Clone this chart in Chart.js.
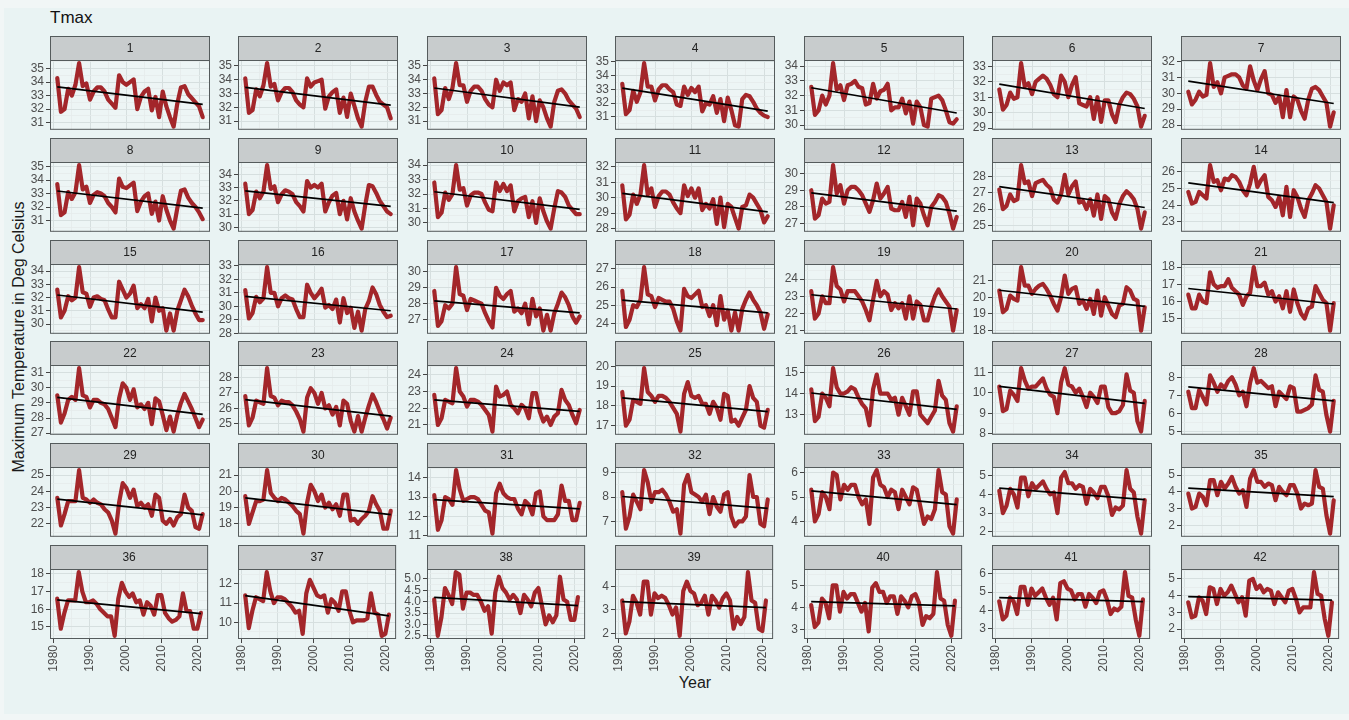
<!DOCTYPE html>
<html>
<head>
<meta charset="utf-8">
<script src="https://cdn.jsdelivr.net/npm/chart.js@4"></script>
<style>
  html,body{margin:0;padding:0;}
  body{width:1349px;height:720px;background:#f1f6f6;position:relative;overflow:hidden;font-family:"Liberation Sans",Arial,sans-serif;}
  #frame{position:absolute;left:4px;top:8px;width:1345px;height:706px;background:#e9f3f3;}
  canvas{position:absolute;}
  #title{position:absolute;left:50px;top:8px;font-size:17px;color:#111;}
  #ylab{position:absolute;left:19px;top:337px;transform:translate(-50%,-50%) rotate(-90deg);font-size:16px;color:#1a1a1a;white-space:nowrap;}
  #xlab{position:absolute;left:695px;top:683px;transform:translate(-50%,-50%);font-size:16px;color:#1a1a1a;}
</style>
</head>
<body>
<div id="frame"></div>
<div id="title">Tmax</div>
<div id="ylab">Maximum Temperature in Deg Celsius</div>
<div id="xlab">Year</div>
<script>
const YEARS = [1981,1982,1983,1984,1985,1986,1987,1988,1989,1990,
               1991,1992,1993,1994,1995,1996,1997,1998,1999,2000,
               2001,2002,2003,2004,2005,2006,2007,2008,2009,2010,
               2011,2012,2013,2014,2015,2016,2017,2018,2019,2020,
               2021];
const X_TICKS = [1980,1990,2000,2010,2020];
const PANEL_LABELS = ['1','2','3','4','5','6','7','8','9','10','11','12','13','14','15','16','17','18','19','20','21',
  '22','23','24','25','26','27','28','29','30','31','32','33','34','35','36','37','38','39','40','41','42'];

const T1 = [34.3,31.8,32.0,33.5,33.0,33.8,35.4,33.7,33.9,32.7,
            33.3,33.6,33.6,33.3,32.7,32.4,32.1,34.5,34.0,33.8,
            34.0,34.2,32.0,32.9,33.3,33.5,31.9,32.9,31.4,33.3,
            32.2,31.4,30.7,32.4,33.6,33.7,33.1,32.8,32.5,32.2,
            31.4];
const T2 = [34.1,31.6,31.8,33.3,32.8,33.6,35.2,33.5,33.7,32.5,
            33.1,33.4,33.4,33.1,32.5,32.2,32.0,34.1,33.5,33.8,
            33.9,34.0,31.9,32.8,33.1,33.3,31.6,32.7,31.3,33.0,
            32.1,31.2,30.6,32.4,33.5,33.5,32.9,32.4,32.2,32.0,
            31.2];
const T3 = [34.1,31.5,31.8,33.4,32.6,33.4,35.2,33.6,33.6,32.4,
            33.2,33.5,33.5,33.2,32.6,32.2,32.0,34.0,33.2,33.8,
            33.6,33.8,31.8,32.6,32.4,33.0,31.2,32.8,31.0,32.5,
            32.0,31.2,30.6,32.4,33.2,33.3,33.0,32.5,32.2,31.9,
            31.3];
const T4 = [33.4,31.2,31.5,32.9,32.1,32.8,34.9,33.2,33.2,32.2,
            33.0,33.3,33.3,33.0,32.8,31.9,31.8,33.2,32.6,33.1,
            32.8,33.2,31.4,32.0,31.9,32.5,31.3,32.3,30.7,32.4,
            31.5,30.4,30.3,32.3,32.6,32.5,32.1,31.6,31.3,31.1,
            31.0];
const T5 = [32.6,30.7,31.0,32.0,31.4,32.0,34.2,32.4,32.7,31.7,
            32.7,32.8,33.0,32.6,32.5,31.4,31.5,32.8,31.8,32.3,
            32.4,32.8,31.0,31.2,31.2,31.8,30.8,31.6,30.1,31.6,
            31.2,30.0,29.9,31.8,31.9,32.0,31.7,31.0,30.2,30.1,
            30.4];
const T6 = [31.5,30.2,30.5,31.3,30.9,31.0,33.2,31.7,31.9,31.2,
            32.0,32.2,32.4,32.2,31.8,31.2,31.0,32.4,32.0,31.0,
            31.8,32.3,30.6,30.5,30.4,31.0,29.6,31.0,29.4,30.8,
            30.8,29.9,29.4,30.5,31.0,31.3,31.2,30.9,30.4,29.1,
            29.8];
const T7 = [30.1,29.3,29.6,30.1,29.8,29.9,31.9,30.4,30.7,30.0,
            31.0,31.1,31.2,31.2,31.0,30.5,30.3,31.7,30.8,30.2,
            30.9,31.4,30.0,29.9,29.4,29.8,28.5,30.2,28.5,29.8,
            29.6,28.9,28.4,29.6,30.3,30.4,30.2,29.8,29.4,27.9,
            28.8];
const T8 = [33.7,31.4,31.6,33.1,32.6,33.1,35.1,33.3,33.5,32.3,
            32.9,33.1,33.0,32.8,32.3,32.0,31.6,34.1,33.5,33.4,
            33.6,33.8,31.7,32.4,32.8,33.0,31.5,32.4,31.0,32.8,
            31.8,31.0,30.4,31.9,33.2,33.3,32.7,32.3,32.0,31.6,
            31.1];
const T9 = [33.3,31.0,31.3,32.7,32.2,32.7,34.7,32.9,33.1,31.9,
            32.5,32.8,32.7,32.5,31.9,31.6,31.2,33.5,33.0,33.2,
            33.0,33.3,31.2,31.9,32.4,32.6,31.0,32.0,30.6,32.2,
            31.2,30.5,29.9,31.7,33.2,33.1,32.6,32.0,31.6,31.2,
            31.0];
const T10 = [32.8,30.4,30.7,32.1,31.6,32.0,34.0,32.3,32.4,31.2,
             31.9,32.1,32.1,32.0,31.4,30.9,30.8,32.8,32.2,32.7,
             32.2,32.6,30.8,31.5,31.7,31.8,30.4,31.5,30.0,31.7,
             30.8,30.1,29.6,31.0,32.2,32.1,31.8,31.2,30.9,30.6,
             30.6];
const T11 = [30.8,28.6,28.9,30.2,29.6,30.2,32.1,30.2,30.6,29.4,
             30.1,30.4,30.4,30.2,29.7,29.3,29.0,30.8,30.1,30.6,
             30.0,30.6,29.2,29.6,29.3,29.9,28.3,30.0,28.1,29.6,
             29.4,28.7,28.0,29.4,29.5,30.2,30.0,29.6,29.2,28.4,
             28.8];
const T12 = [29.0,27.3,27.5,28.5,28.2,28.3,30.5,28.8,29.3,28.2,
             29.0,29.2,29.2,29.0,28.7,28.2,27.7,28.4,29.4,28.5,
             28.8,29.2,27.9,27.8,27.8,28.3,27.4,28.6,26.9,28.5,
             28.2,27.5,26.9,28.0,28.3,28.7,28.6,28.3,27.6,26.7,
             27.4];
const T13 = [27.2,26.0,26.2,26.9,26.5,26.6,28.7,27.6,27.7,26.8,
             27.6,27.7,27.8,27.5,27.3,26.6,26.4,26.9,28.1,26.9,
             27.4,27.7,26.4,26.5,26.0,26.6,25.6,26.9,25.4,26.8,
             26.6,25.8,25.4,26.3,26.8,27.1,26.9,26.6,26.0,24.8,
             25.8];
const T14 = [24.8,24.1,24.2,24.8,24.6,24.4,26.4,25.4,25.5,24.9,
             25.6,25.5,25.8,25.7,25.4,24.9,24.6,25.3,26.3,25.1,
             25.5,25.8,24.5,24.3,23.9,24.5,23.4,25.1,23.3,24.9,
             24.5,23.8,23.3,24.3,24.7,25.2,25.0,24.6,24.2,22.6,
             24.0];
const T15 = [32.6,30.5,31.0,32.1,31.8,32.0,34.3,32.4,32.3,31.3,
             32.0,32.1,31.9,31.8,31.1,30.5,30.5,33.2,32.6,32.0,
             32.3,32.9,31.2,31.5,31.2,31.9,30.2,32.0,31.0,31.2,
             29.5,30.8,29.5,31.0,31.8,32.6,32.1,31.4,30.8,30.3,
             30.3];
const T16 = [31.2,29.1,29.5,30.7,30.3,30.6,32.9,31.0,31.0,30.0,
             30.6,30.8,30.6,30.5,29.8,29.2,29.2,31.6,31.0,30.6,
             30.9,31.3,29.9,30.1,29.8,30.5,28.8,30.6,29.5,29.9,
             28.4,29.6,28.2,29.8,30.4,31.4,30.9,30.1,29.6,29.2,
             29.3];
const T17 = [28.8,26.6,26.9,27.9,27.7,28.0,30.3,28.6,28.5,27.6,
             28.3,28.2,28.1,28.0,27.4,26.9,26.5,29.0,28.5,28.3,
             28.6,28.8,27.5,27.7,27.4,28.0,26.7,28.3,27.2,27.7,
             26.3,27.3,26.3,27.4,28.0,28.7,28.4,27.9,27.2,26.8,
             27.2];
const T18 = [25.8,23.8,24.2,25.0,24.9,25.3,27.1,25.6,25.5,24.9,
             25.4,25.3,25.2,25.2,24.8,24.1,23.6,25.9,25.5,25.4,
             25.6,25.8,24.9,25.0,24.4,25.0,23.9,25.5,24.2,24.7,
             23.6,24.6,23.6,24.8,25.3,25.7,25.3,25.0,24.6,23.7,
             24.5];
const T19 = [23.3,21.7,22.0,23.0,22.6,22.6,24.7,23.6,23.4,22.7,
             23.3,23.3,23.3,23.0,22.7,22.2,21.6,22.8,23.9,23.0,
             23.3,23.1,22.2,22.6,22.3,22.6,21.7,23.0,21.7,22.7,
             22.5,21.6,21.6,22.4,23.0,23.4,23.0,22.7,22.4,21.0,
             22.2];
const T20 = [20.4,19.1,19.3,20.1,19.9,19.8,21.8,20.7,20.7,20.2,
             20.5,20.7,20.8,20.5,20.1,19.6,19.2,20.0,21.3,20.2,
             20.5,20.6,19.6,19.8,19.3,19.9,19.0,20.4,18.9,20.0,
             19.5,19.0,18.8,19.5,19.6,20.6,20.4,19.9,19.8,18.0,
             19.4];
const T21 = [16.4,15.6,15.6,16.4,16.0,15.9,17.7,17.0,16.8,16.9,
             16.9,17.3,16.8,16.6,16.4,15.8,16.3,16.5,18.0,16.9,
             16.9,17.1,16.4,16.6,16.0,16.3,15.6,16.6,15.4,16.7,
             15.9,15.3,15.0,15.6,15.7,16.9,16.5,16.1,15.9,14.3,
             15.9];
const T22 = [29.5,27.7,28.3,29.2,29.4,29.2,31.3,29.5,29.4,28.7,
             29.2,29.2,29.0,28.9,28.6,28.0,27.4,29.3,30.3,30.0,
             29.2,29.9,28.7,28.9,28.6,29.0,27.6,29.3,29.1,28.2,
             27.2,28.1,27.1,28.2,29.0,29.6,29.1,28.6,28.0,27.4,
             27.9];
const T23 = [26.8,24.9,25.4,26.5,26.4,26.3,28.6,26.8,26.7,26.2,
             26.5,26.4,26.4,26.2,25.8,25.3,24.5,26.7,27.3,27.0,
             26.3,27.0,26.0,26.2,25.6,26.1,24.9,26.5,26.3,25.2,
             24.5,25.5,24.5,25.4,26.2,26.9,26.4,25.8,25.3,24.7,
             25.4];
const T24 = [22.8,21.0,21.4,22.5,22.4,22.3,24.4,23.0,22.7,22.1,
             22.5,22.5,22.4,22.2,21.9,21.6,20.6,23.3,22.7,22.8,
             23.0,22.2,22.0,21.7,22.2,22.0,21.4,22.9,22.9,21.8,
             21.2,21.5,21.0,21.5,21.7,23.1,22.5,22.2,21.6,21.1,
             21.9];
const T25 = [18.7,17.0,17.3,18.3,18.2,18.1,19.9,18.7,18.5,18.2,
             18.5,18.5,18.4,18.2,17.9,17.6,16.7,18.6,19.2,18.5,
             18.4,18.5,18.1,18.1,17.6,18.2,17.9,17.3,18.6,18.5,
             17.2,17.3,17.0,17.4,17.8,19.0,18.4,18.2,17.0,16.9,
             17.8];
const T26 = [14.2,12.7,12.9,14.0,13.8,13.4,15.2,14.3,14.0,14.0,
             14.1,14.3,14.2,13.8,13.5,13.3,12.5,14.2,14.9,14.0,
             14.0,14.0,13.7,13.8,13.0,13.8,13.4,13.0,14.1,14.1,
             13.0,12.8,12.6,12.9,13.2,14.6,13.9,13.7,12.6,12.2,
             13.4];
const T27 = [10.3,9.1,9.2,10.1,9.9,9.6,11.2,10.6,10.2,10.3,
             10.3,10.5,10.7,10.2,9.9,9.8,9.0,10.5,11.2,10.4,
             10.3,10.0,10.2,9.8,9.3,10.0,9.8,9.5,10.3,10.3,
             9.3,9.0,9.0,9.1,9.4,10.9,10.1,10.0,8.6,8.1,
             9.6];
const T28 = [7.2,6.3,6.3,7.3,6.9,6.5,8.1,7.7,7.2,7.6,
             7.4,7.8,8.0,7.6,7.0,7.2,6.4,7.7,8.5,7.7,
             7.8,7.6,7.4,7.5,6.4,7.2,7.0,6.8,7.5,7.4,
             6.1,6.1,6.2,6.3,6.5,8.1,7.3,7.2,5.9,5.0,
             6.7];
const T29 = [23.6,21.9,22.6,23.4,23.4,23.4,25.3,23.6,23.5,23.3,
             23.5,23.3,23.2,22.9,22.7,22.2,21.4,23.3,24.5,24.2,
             23.6,24.1,23.1,23.3,23.0,23.2,22.5,23.8,23.6,22.2,
             22.0,22.3,21.9,22.4,22.6,23.8,23.0,22.8,21.8,21.7,
             22.6];
const T30 = [19.7,18.0,18.7,19.4,19.4,19.5,21.3,19.9,19.6,19.4,
             19.6,19.5,19.3,19.1,18.8,18.6,17.4,19.3,20.4,20.0,
             19.4,19.8,19.0,19.3,18.9,19.2,18.5,19.8,19.8,18.2,
             18.3,18.0,18.3,18.5,18.8,19.7,19.2,18.8,17.7,17.7,
             18.8];
const T31 = [13.1,11.3,11.8,13.0,12.9,12.6,14.4,13.4,12.8,12.9,
             13.0,13.0,12.9,12.6,12.3,12.2,11.1,13.2,13.7,13.2,
             13.0,12.9,12.9,12.4,12.1,12.8,12.6,12.1,13.2,13.3,
             12.0,11.8,11.8,11.8,12.1,13.6,12.8,12.8,11.8,11.8,
             12.7];
const T32 = [8.2,6.7,7.2,8.1,7.8,7.5,9.1,8.6,7.8,8.2,
             8.2,8.3,8.1,7.8,7.4,7.5,6.5,8.5,8.9,8.2,
             8.1,8.0,7.8,8.1,7.3,8.0,7.6,7.4,8.1,8.2,
             7.2,6.8,7.0,7.0,7.2,8.9,8.0,8.0,6.9,6.8,
             7.9];
const T33 = [5.3,4.0,4.3,5.2,5.0,4.5,6.0,5.9,4.9,5.5,
             5.3,5.5,5.5,5.0,4.7,4.9,3.9,5.8,6.1,5.5,
             5.4,5.0,5.3,5.2,4.5,5.3,5.0,4.7,5.4,5.3,
             4.6,3.9,4.2,4.1,4.5,6.1,5.2,5.1,3.8,3.5,
             4.9];
const T34 = [4.2,3.0,3.4,4.3,4.0,3.3,4.9,4.9,3.9,4.6,
             4.3,4.5,4.7,4.3,4.0,4.1,3.0,4.9,5.2,4.6,
             4.6,4.3,4.5,4.4,3.5,4.3,4.1,3.8,4.4,4.4,
             3.9,2.9,3.3,3.2,3.4,5.3,4.3,4.1,2.8,1.9,
             3.7];
const T35 = [3.9,3.0,3.1,3.9,3.7,3.2,4.7,4.7,3.8,4.6,
             4.2,4.5,4.9,4.3,3.9,4.1,3.1,4.8,5.3,4.6,
             4.6,4.3,4.5,4.4,3.5,4.3,4.0,3.8,4.4,4.4,
             3.9,3.0,3.3,3.2,3.3,5.3,4.3,4.2,2.6,1.5,
             3.5];
const T36 = [16.6,14.9,15.8,16.5,16.5,16.5,18.1,17.0,16.4,16.4,
             16.5,16.3,16.0,15.8,15.6,15.6,14.5,16.6,17.5,17.0,
             16.7,16.9,16.4,16.5,15.7,16.4,16.2,15.7,16.8,16.8,
             15.8,15.5,15.3,15.4,15.6,16.9,15.9,15.9,14.9,14.9,
             15.8];
const T37 = [11.4,9.7,10.6,11.3,11.2,11.1,12.6,11.6,11.0,11.3,
             11.3,11.2,11.0,10.8,10.5,10.6,9.4,11.5,12.2,11.8,
             11.4,11.3,11.4,10.5,11.2,11.0,10.6,11.6,11.6,10.6,
             10.0,10.1,10.1,10.1,10.2,11.5,10.5,10.4,9.3,9.4,
             10.4];
const T38 = [4.1,2.5,3.3,4.6,4.3,3.9,5.3,5.2,3.7,4.4,
             4.4,4.3,4.3,4.0,3.6,3.8,2.6,4.4,5.1,4.6,
             4.4,4.1,4.3,4.1,3.5,4.3,4.1,3.8,4.4,4.6,
             3.8,3.0,3.4,3.1,3.4,5.1,4.1,4.0,3.2,3.2,
             4.2];
const T39 = [3.4,2.0,2.5,3.6,3.3,2.8,4.2,4.2,2.8,3.7,
             3.5,3.6,3.5,3.2,2.8,3.1,1.9,3.8,4.2,3.8,
             3.7,3.2,3.3,3.6,2.8,3.6,3.4,3.1,3.5,3.7,
             3.4,2.2,2.7,2.4,2.7,4.6,3.4,3.3,2.2,2.1,
             3.4];
const T40 = [4.1,3.1,3.3,4.4,4.2,3.5,5.0,5.0,3.8,4.7,
             4.4,4.6,4.6,4.2,3.8,4.2,2.9,4.9,5.1,4.7,
             4.7,4.2,4.5,4.5,3.7,4.5,4.3,4.0,4.5,4.6,
             4.2,3.2,3.6,3.5,3.7,5.6,4.4,4.3,3.2,2.7,
             4.3];
const T41 = [4.5,3.5,3.7,4.7,4.5,3.8,5.3,5.3,4.3,5.2,
             4.8,5.0,5.2,4.7,4.3,4.7,3.5,5.5,5.6,5.2,
             5.1,4.6,4.9,4.9,4.2,4.9,4.7,4.4,5.0,5.1,
             4.6,3.8,4.1,4.0,4.2,6.1,4.8,4.7,3.5,2.6,
             4.6];
const T42 = [3.6,2.7,2.8,3.9,3.7,2.9,4.5,4.4,3.5,4.4,
             4.0,4.2,4.6,4.1,3.6,3.9,2.8,4.9,5.0,4.4,
             4.6,4.2,4.4,4.3,3.5,4.2,3.9,3.6,4.3,4.4,
             3.8,3.0,3.3,3.3,3.3,5.4,4.1,4.0,2.6,1.6,
             3.6];

const SERIES = [T1,T2,T3,T4,T5,T6,T7,T8,T9,T10,T11,T12,T13,T14,T15,T16,T17,T18,T19,T20,T21,
                T22,T23,T24,T25,T26,T27,T28,T29,T30,T31,T32,T33,T34,T35,T36,T37,T38,T39,T40,T41,T42];

const Y_TICKS = [
  [31,32,33,34,35],[31,32,33,34,35],[31,32,33,34,35],[31,32,33,34,35],[30,31,32,33,34],[29,30,31,32,33],[28,29,30,31,32],
  [31,32,33,34,35],[30,31,32,33,34],[30,31,32,33,34],[28,29,30,31,32],[27,28,29,30],[25,26,27,28],[23,24,25,26],
  [30,31,32,33,34],[28,29,30,31,32,33],[27,28,29,30],[24,25,26,27],[21,22,23,24],[18,19,20,21],[15,16,17,18],
  [27,28,29,30,31],[25,26,27,28],[21,22,23,24],[17,18,19,20],[13,14,15],[8,9,10,11],[5,6,7,8],
  [22,23,24,25],[18,19,20,21],[11,12,13,14],[7,8,9],[4,5,6],[2,3,4,5],[2,3,4,5],
  [15,16,17,18],[10,11,12],[2.5,3.0,3.5,4.0,4.5,5.0],[2,3,4],[3,4,5],[3,4,5,6],[2,3,4,5]
];

// ---- layout / style ----
const COL0 = 50, COL_PITCH = 188.45, ROW0 = 36, ROW_PITCH = 101.8;
const PLOT_W = 160, PLOT_H = 70, STRIP_H = 24, YAXIS_W = 46;
const RED = '#a3262a';
const PANEL_BG = '#edf5f5';
const GRID_MAJOR = '#d6dfdf';
const GRID_MINOR = '#e4ebeb';
const FONT = '"Liberation Sans", Arial, sans-serif';

const panelPlugin = {
  id: 'panelDeco',
  beforeDraw(chart) {
    const {ctx, chartArea: a} = chart;
    ctx.save();
    ctx.fillStyle = PANEL_BG;
    ctx.fillRect(a.left, a.top, a.right - a.left, a.bottom - a.top);
    ctx.restore();
  },
  afterDraw(chart, args, opts) {
    const {ctx, chartArea: a} = chart;
    ctx.save();
    ctx.strokeStyle = '#555b5c';
    ctx.lineWidth = 1;
    ctx.strokeRect(a.left + 0.5, a.top + 0.5, a.right - a.left - 1, a.bottom - a.top - 1);
    const top = a.top - STRIP_H;
    ctx.fillStyle = '#c8cccd';
    ctx.fillRect(a.left, top, a.right - a.left, STRIP_H);
    ctx.strokeRect(a.left + 0.5, top + 0.5, a.right - a.left - 1, STRIP_H);
    ctx.fillStyle = '#222';
    ctx.font = '12px ' + FONT;
    ctx.textAlign = 'center';
    ctx.textBaseline = 'middle';
    ctx.fillText(opts.label, (a.left + a.right) / 2, top + STRIP_H / 2 + 0.5);
    ctx.restore();
  }
};

function linFit(xs, ys) {
  const n = xs.length;
  let sx = 0, sy = 0, sxx = 0, sxy = 0;
  for (let k = 0; k < n; k++) { sx += xs[k]; sy += ys[k]; sxx += xs[k]*xs[k]; sxy += xs[k]*ys[k]; }
  const b = (n*sxy - sx*sy) / (n*sxx - sx*sx);
  const a = (sy - b*sx) / n;
  return x => a + b*x;
}

SERIES.forEach((vals, i) => {
  const col = i % 7, row = Math.floor(i / 7);
  const bottomRow = row === 5;
  const plotLeft = Math.round(COL0 + col * COL_PITCH);
  const stripTop = Math.round(ROW0 + row * ROW_PITCH);
  const xAxisH = bottomRow ? 42 : 9;
  const cv = document.createElement('canvas');
  const W = YAXIS_W + PLOT_W + 4, H = STRIP_H + PLOT_H + xAxisH;
  cv.width = W; cv.height = H;
  cv.style.left = (plotLeft - YAXIS_W) + 'px';
  cv.style.top = stripTop + 'px';
  cv.style.width = W + 'px'; cv.style.height = H + 'px';
  document.body.appendChild(cv);

  const fit = linFit(YEARS, vals);
  const trend = [{x: YEARS[0], y: fit(YEARS[0])}, {x: YEARS[YEARS.length-1], y: fit(YEARS[YEARS.length-1])}];
  const allY = vals.concat(trend.map(p => p.y));
  const lo = Math.min(...allY), hi = Math.max(...allY);
  const yMin = lo - 0.05 * (hi - lo), yMax = hi + 0.05 * (hi - lo);
  const xMin = YEARS[0] - 0.05 * (YEARS[YEARS.length-1] - YEARS[0]);
  const xMax = YEARS[YEARS.length-1] + 0.05 * (YEARS[YEARS.length-1] - YEARS[0]);

  const majorsY = Y_TICKS[i];
  const stepY = majorsY[1] - majorsY[0];
  const ticksY = [];
  for (let v = majorsY[0] - stepY; v <= majorsY[majorsY.length-1] + stepY + 1e-9; v += stepY / 2) {
    const r = Math.round(v * 1000) / 1000;
    if (r >= yMin && r <= yMax) ticksY.push(r);
  }
  const isMajorY = v => majorsY.some(m => Math.abs(m - v) < 1e-6);
  const ticksX = [];
  for (let v = X_TICKS[0] - 5; v <= X_TICKS[X_TICKS.length-1] + 5; v += 5) {
    if (v >= xMin && v <= xMax) ticksX.push(v);
  }
  const isMajorX = v => X_TICKS.includes(v);
  const decimals = stepY < 1 ? 1 : 0;

  new Chart(cv, {
    type: 'line',
    data: {
      datasets: [
        { data: trend, borderColor: '#000', borderWidth: 1.7, pointRadius: 0, order: 0, tension: 0 },
        { data: vals.map((v, k) => ({x: YEARS[k], y: v})), borderColor: RED, borderWidth: 4.2,
          pointRadius: 0, order: 1, tension: 0, borderJoinStyle: 'round', borderCapStyle: 'round' }
      ]
    },
    options: {
      responsive: false, animation: false, devicePixelRatio: 1,
      layout: { padding: { top: STRIP_H, right: 4, left: 0, bottom: 0 } },
      plugins: { legend: { display: false }, tooltip: { enabled: false }, panelDeco: { label: PANEL_LABELS[i] } },
      scales: {
        x: {
          type: 'linear', min: xMin, max: xMax,
          afterBuildTicks: s => { s.ticks = ticksX.map(v => ({value: v})); },
          afterFit: s => { s.height = xAxisH; },
          border: { display: false },
          grid: {
            color: c => (c.tick && isMajorX(c.tick.value)) ? GRID_MAJOR : GRID_MINOR,
            lineWidth: c => (c.tick && isMajorX(c.tick.value)) ? 1 : 0.8,
            drawTicks: bottomRow, tickLength: 4,
            tickColor: c => (c.tick && isMajorX(c.tick.value)) ? '#444' : 'rgba(0,0,0,0)'
          },
          ticks: {
            display: bottomRow, autoSkip: false, minRotation: 90, maxRotation: 90, padding: 2,
            color: '#4d4d4d', font: { size: 12, family: FONT },
            callback: v => isMajorX(v) ? String(v) : ''
          }
        },
        y: {
          type: 'linear', min: yMin, max: yMax,
          afterBuildTicks: s => { s.ticks = ticksY.map(v => ({value: v})); },
          afterFit: s => { s.width = YAXIS_W; },
          border: { display: false },
          grid: {
            color: c => (c.tick && isMajorY(c.tick.value)) ? GRID_MAJOR : GRID_MINOR,
            lineWidth: c => (c.tick && isMajorY(c.tick.value)) ? 1 : 0.8,
            drawTicks: true, tickLength: 4,
            tickColor: c => (c.tick && isMajorY(c.tick.value)) ? '#444' : 'rgba(0,0,0,0)'
          },
          ticks: {
            autoSkip: false, padding: 2, color: '#4d4d4d', font: { size: 12, family: FONT },
            callback: v => isMajorY(v) ? v.toFixed(decimals) : ''
          }
        }
      }
    },
    plugins: [panelPlugin]
  });
});
</script>
</body>
</html>
